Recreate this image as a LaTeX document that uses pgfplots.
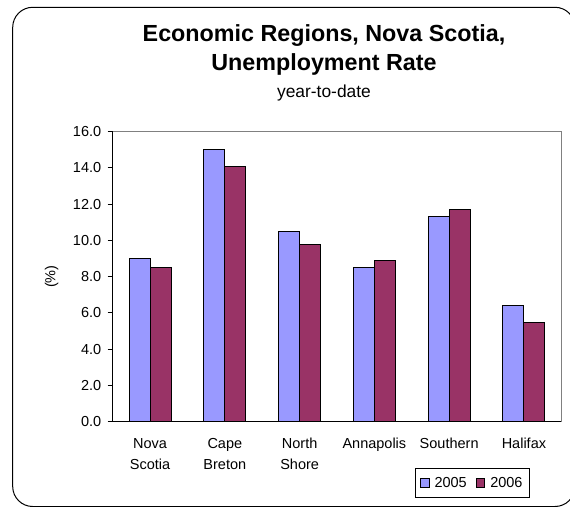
\documentclass[border=0pt]{standalone}
\usepackage{fontspec}
\setmainfont{Liberation Sans}
\usepackage{pgfplots}
\pgfplotsset{compat=1.18}
\definecolor{c2005}{HTML}{9999FF}
\definecolor{c2006}{HTML}{993366}
\definecolor{frame}{HTML}{808080}
\pgfplotsset{sqlegend/.style={legend image code/.code={\draw[##1] (0pt,-4.3pt) rectangle (8.6pt,4.3pt);}}}

\begin{document}
\begin{tikzpicture}[x=1pt,y=1pt]
\useasboundingbox (0,0) rectangle (570,506);
\begin{scope}
\clip (0,0) rectangle (570,506);
\draw[line width=1pt, rounded corners=20pt] (12.7,498.7) rectangle (575,-0.5);
\end{scope}
\node[anchor=base, inner sep=0pt, font=\fontsize{23.3}{28}\selectfont\bfseries] at (324,464.3) {Economic Regions, Nova Scotia,};
\node[anchor=base, inner sep=0pt, font=\fontsize{23.3}{28}\selectfont\bfseries] at (324,435) {Unemployment Rate};
\node[anchor=base, inner sep=0pt, font=\fontsize{17.4}{21}\selectfont] at (324,408.7) {year-to-date};
\begin{axis}[
  at={(112.7pt,84.3pt)}, anchor=south west,
  scale only axis, width=448.6pt, height=290pt,
  xmin=-0.5, xmax=5.5, ymin=0, ymax=16,
  axis x line*=bottom, axis y line*=left,
  axis line style={-, line width=0.9pt, black},
  ybar=0pt, bar width=21pt,
  xtick={0,1,2,3,4,5},
  xticklabels={{Nova\\Scotia},{Cape\\Breton},{North\\Shore},{Annapolis},{Southern},{Halifax}},
  major x tick style={draw=none},
  extra x ticks={-0.5,0.5,1.5,2.5,3.5,4.5,5.5},
  extra x tick labels={},
  extra x tick style={major tick length=5pt, tick style={black, line width=0.9pt}},
  ytick={0,2,...,16},
  tick align=outside,
  major tick length=5pt,
  tick style={black, line width=0.9pt},
  xticklabel style={align=center, font=\fontsize{14.5}{21}\selectfont, yshift=-8pt},
  yticklabel style={font=\fontsize{14.5}{17}\selectfont, xshift=-3pt},
  /pgf/number format/assume math mode=true,
  yticklabel={\pgfmathprintnumber[fixed, fixed zerofill, precision=1]{\tick}},
  ylabel={(\%)},
  ylabel style={at={(axis description cs:-0.136,0.5)}, anchor=center, font=\fontsize{14.5}{17}\selectfont},
  legend columns=2,
  legend style={at={(0.674,-0.1607)}, anchor=north west, draw=black, line width=0.9pt,
    font=\fontsize{14.5}{17}\selectfont, inner xsep=4.5pt, inner ysep=4pt,
    nodes={inner xsep=2pt, inner ysep=4.5pt},
    /tikz/every odd column/.append style={column sep=3pt},
    /tikz/every even column/.append style={column sep=7pt}},
  clip=false,
]
\draw[frame, line width=1.3pt] (rel axis cs:0,1) -- (rel axis cs:1,1) -- (rel axis cs:1,0);
\addplot[fill=c2005, draw=black, line width=0.9pt, sqlegend]
  coordinates {(0,9.0) (1,15.0) (2,10.5) (3,8.5) (4,11.3) (5,6.4)};
\addplot[fill=c2006, draw=black, line width=0.9pt, sqlegend]
  coordinates {(0,8.5) (1,14.1) (2,9.8) (3,8.9) (4,11.7) (5,5.5)};
\legend{2005,2006}
\end{axis}
\end{tikzpicture}
\end{document}
